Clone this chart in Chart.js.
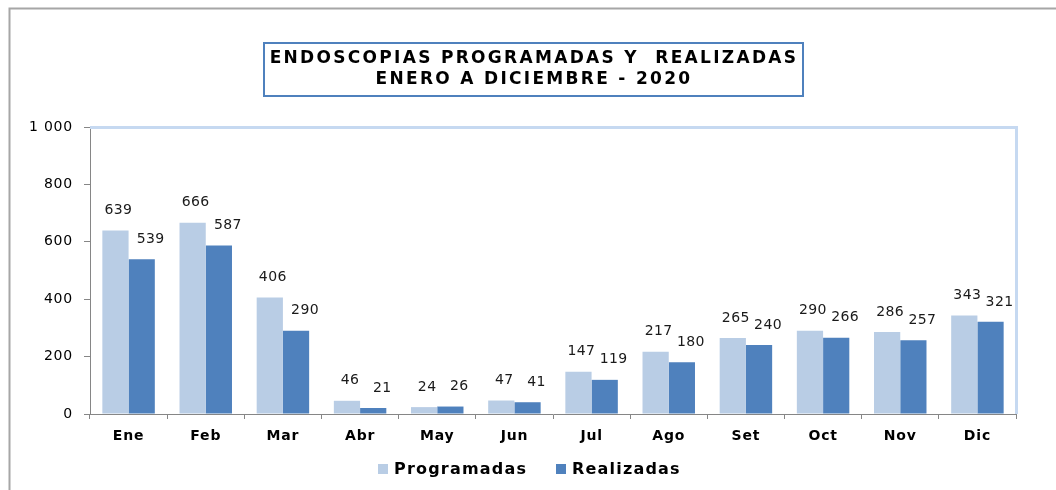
<!DOCTYPE html>
<html>
<head>
<meta charset="utf-8">
<script src="https://cdn.jsdelivr.net/npm/chart.js@4.4.1/dist/chart.umd.min.js"></script>
<style>
html,body{margin:0;padding:0;background:#fff;}
#wrap{position:relative;width:1056px;height:490px;}
</style>
</head>
<body>
<div id="wrap"><canvas id="c" width="1056" height="490"></canvas></div>
<script>
const categories = ['Ene','Feb','Mar','Abr','May','Jun','Jul','Ago','Set','Oct','Nov','Dic'];
const programadas = [639,666,406,46,24,47,147,217,265,290,286,343];
const realizadas = [539,587,290,21,26,41,119,180,240,266,257,321];
const yTicks = [0,200,400,600,800,1000];
const titleLines = ['ENDOSCOPIAS PROGRAMADAS Y  REALIZADAS','ENERO A DICIEMBRE - 2020'];
const seriesNames = ['Programadas','Realizadas'];

const COL_P = '#b9cde5';
const COL_R = '#4f81bd';
const FONT = '"DejaVu Sans", Verdana, sans-serif';

function fmt(v){ return String(v).replace(/\B(?=(\d{3})+(?!\d))/g,' '); }

const decor = {
  id:'decor',
  beforeDraw(chart){
    const ctx = chart.ctx;
    ctx.letterSpacing = '0.8px';
    ctx.save();
    ctx.fillStyle = '#fff';
    ctx.fillRect(0,0,chart.width,chart.height);
    ctx.strokeStyle = '#a6a6a6';
    ctx.lineWidth = 2;
    ctx.beginPath();
    ctx.moveTo(9.5, 490); ctx.lineTo(9.5, 8.5); ctx.lineTo(1056, 8.5);
    ctx.stroke();
    ctx.restore();
  },
  beforeDatasetsDraw(chart){
    const {ctx, chartArea:a} = chart;
    ctx.save();
    ctx.strokeStyle = '#c6d9f1';
    ctx.lineWidth = 3;
    ctx.beginPath();
    ctx.moveTo(a.left, a.top+0.5);
    ctx.lineTo(a.right+0.5, a.top+0.5);
    ctx.lineTo(a.right+0.5, a.bottom);
    ctx.stroke();
    ctx.restore();
  },
  afterDraw(chart){
    const ctx = chart.ctx;
    ctx.save();
    ctx.strokeStyle = '#4f81bd';
    ctx.lineWidth = 2;
    ctx.strokeRect(264, 43, 539, 53);
    ctx.fillStyle = '#000';
    ctx.letterSpacing = '2.3px';
    ctx.font = 'bold 17px ' + FONT;
    ctx.textAlign = 'center';
    ctx.textBaseline = 'middle';
    ctx.fillText(titleLines[0], 534, 59);
    ctx.fillText(titleLines[1], 534, 80);
    ctx.letterSpacing = '0.4px';
    ctx.font = '14px ' + FONT;
    ctx.fillStyle = '#1a1a1a';
    const offs = [3, 9];
    chart.data.datasets.forEach((ds, di) => {
      const meta = chart.getDatasetMeta(di);
      meta.data.forEach((bar, i) => {
        ctx.fillText(String(ds.data[i]), bar.x + offs[di], bar.y - 20);
      });
    });
    ctx.letterSpacing = '1.2px';
    ctx.font = 'bold 16px ' + FONT;
    ctx.textAlign = 'left';
    const items = [{x:378, c:COL_P, t:seriesNames[0]}, {x:556, c:COL_R, t:seriesNames[1]}];
    items.forEach(it => {
      ctx.fillStyle = it.c;
      ctx.fillRect(it.x, 464, 10, 10);
      ctx.fillStyle = '#000';
      ctx.fillText(it.t, it.x + 16, 470);
    });
    ctx.restore();
  }
};

new Chart(document.getElementById('c'), {
  type:'bar',
  data:{
    labels: categories,
    datasets:[
      {label: seriesNames[0], data: programadas, backgroundColor: COL_P, borderWidth:0},
      {label: seriesNames[1], data: realizadas, backgroundColor: COL_R, borderWidth:0}
    ]
  },
  options:{
    responsive:false,
    animation:false,
    devicePixelRatio:1,
    layout:{padding:{left:0, right:40, top:127, bottom:0}},
    plugins:{legend:{display:false}, title:{display:false}, tooltip:{enabled:false}},
    datasets:{bar:{categoryPercentage:0.68, barPercentage:1.0}},
    scales:{
      x:{
        grid:{display:true, drawOnChartArea:false, tickLength:5, color:'#868686'},
        border:{color:'#868686', width:1},
        ticks:{color:'#000', font:{family:FONT, size:14, weight:'bold'}, padding:9},
        afterFit(s){ s.height = 76; }
      },
      y:{
        min:0, max:1000,
        afterBuildTicks(s){ s.ticks = yTicks.map(v => ({value:v})); },
        grid:{display:true, drawOnChartArea:false, tickLength:6, color:'#868686'},
        border:{color:'#868686', width:1},
        ticks:{color:'#000', font:{family:FONT, size:14}, padding:11, callback:(v)=>fmt(v)},
        afterFit(s){ s.width = 90; }
      }
    }
  },
  plugins:[decor]
});
</script>
</body>
</html>
